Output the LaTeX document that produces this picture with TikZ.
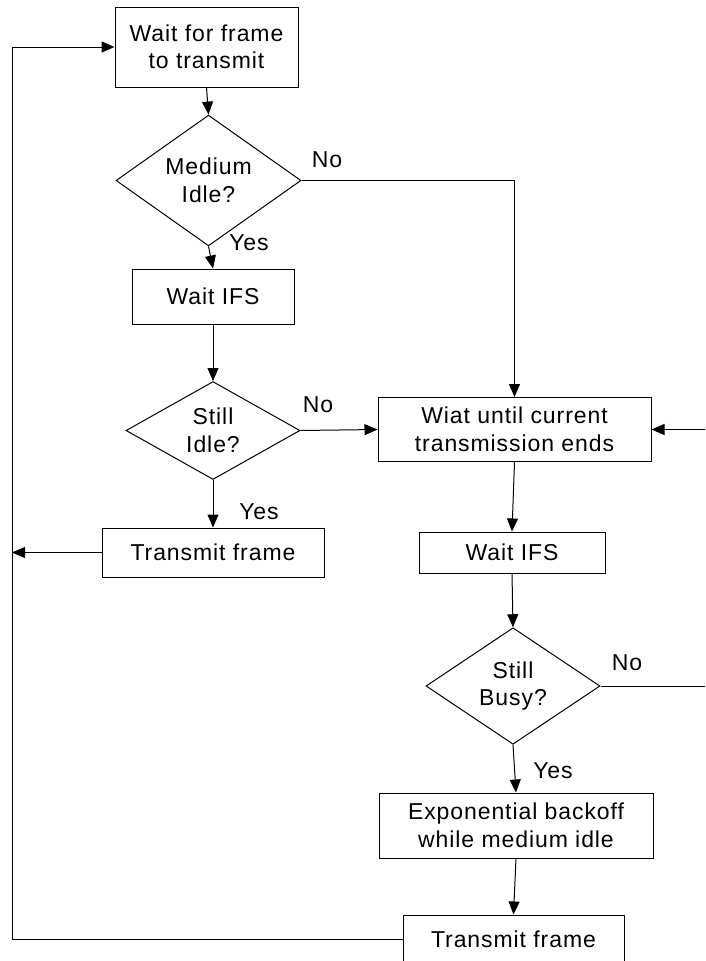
\documentclass[tikz,border=0pt]{standalone}
\usepackage{fontspec}
\setmainfont{Liberation Sans}[LetterSpace=4]
\usetikzlibrary{shapes.geometric,arrows.meta}
\begin{document}
\begin{tikzpicture}[x=1pt,y=-1pt,
  every node/.style={font=\fontsize{23}{27.5}\selectfont, inner sep=0pt, align=center},
  procbox/.style={draw, rectangle, line width=1pt},
  decision/.style={draw, diamond, line width=1pt},
  flow/.style={line width=1pt},
  arrowline/.style={flow, -{Triangle[length=13pt,width=11pt]}},
  lbl/.style={}]
  \useasboundingbox[fill=white] (0,0) rectangle (705,961);

  % left column
  \node[procbox, minimum width=183pt, minimum height=80pt] (wait) at (206.5,47) {Wait for frame\\to transmit};
  \node[decision, minimum width=185pt, minimum height=95pt] (idle) at (208.5,180.5) {Medium\\Idle?};
  \node[procbox, minimum width=162pt, minimum height=55pt] (ifsA) at (213,296.5) {Wait IFS};
  \node[decision, minimum width=174pt, minimum height=95pt] (still) at (213,430.5) {Still\\Idle?};
  \node[procbox, minimum width=222pt, minimum height=49pt] (txA) at (213,552.5) {Transmit frame};

  % right column
  \node[procbox, minimum width=273pt, minimum height=64pt] (ends) at (514.5,429.5) {Wiat until current\\transmission ends};
  \node[procbox, minimum width=186pt, minimum height=41pt] (ifsB) at (512,552.5) {Wait IFS};
  \node[decision, minimum width=174pt, minimum height=94pt] (busy) at (513,686) {Still\\Busy?};
  \node[procbox, minimum width=274pt, minimum height=65pt] (backoff) at (516,825.5) {Exponential backoff\\while medium idle};
  \node[procbox, minimum width=221pt, minimum height=49pt] (txB) at (513.5,939.5) {Transmit frame};

  % loop-back rail and free ends at the right margin
  \coordinate (railTop) at (12,47);
  \coordinate (railBot) at (12,939.5);
  \coordinate (rail) at (12,552.5);
  \coordinate (edgeIn) at (705,429.5);
  \coordinate (edgeOut) at (705,686);

  % branch labels
  \node[lbl] (noA) at (327,160) {No};
  \node[lbl] (yesA) at (249,243) {Yes};
  \node[lbl] (noB) at (318,405) {No};
  \node[lbl] (yesB) at (259,512) {Yes};
  \node[lbl] (noC) at (627,663) {No};
  \node[lbl] (yesC) at (553,771) {Yes};

  % connectors
  \draw[arrowline] (wait.south) -- (idle.north);
  \draw[arrowline] (idle.south) -- (ifsA.north);
  \draw[arrowline] (ifsA.south) -- (still.north);
  \draw[arrowline] (still.south) -- (txA.north);
  \draw[arrowline] (idle.east) -| (ends.north);
  \draw[arrowline] (still.east) -- (ends.west);
  \draw[arrowline] (edgeIn) -- (ends.east);
  \draw[arrowline] (ends.south) -- (ifsB.north);
  \draw[arrowline] (ifsB.south) -- (busy.north);
  \draw[flow] (busy.east) -- (edgeOut);
  \draw[arrowline] (busy.south) -- (backoff.north);
  \draw[arrowline] (backoff.south) -- (txB.north);
  \draw[arrowline] (txA.west) -- (rail);
  \draw[arrowline] (txB.west) -- (railBot) -- (railTop) -- (wait.west);
\end{tikzpicture}
\end{document}
